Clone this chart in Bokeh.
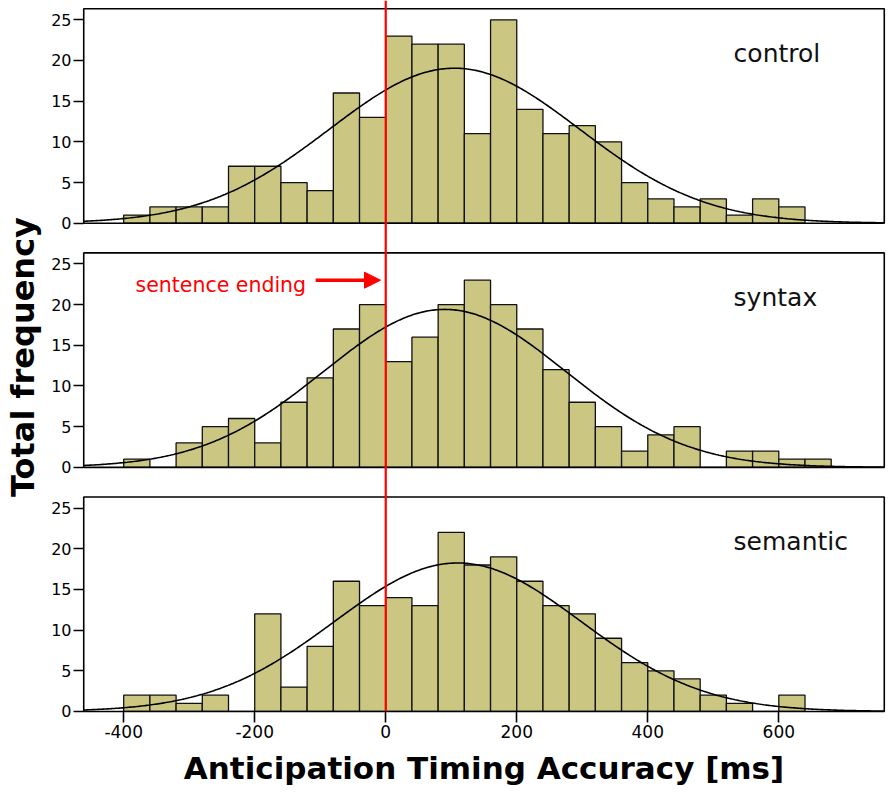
import numpy as np
from bokeh.plotting import figure
from bokeh.models import Range1d, FixedTicker, Arrow, NormalHead
from bokeh.core.properties import value
from bokeh.embed import file_html
from bokeh.resources import INLINE

# ---------------- data ----------------
bin_start = -400
bin_width = 40
panel_names = ["control", "syntax", "semantic"]
control = [1, 2, 2, 2, 7, 7, 5, 4, 16, 13, 23, 22, 22, 11, 25, 14, 11, 12, 10, 5, 3, 2, 3, 1, 3, 2]
syntax = [1, 0, 3, 5, 6, 3, 8, 11, 17, 20, 13, 16, 20, 23, 20, 17, 12, 8, 5, 2, 4, 5, 0, 2, 2, 1, 1]
semantic = [2, 2, 1, 2, 0, 12, 3, 8, 16, 13, 14, 13, 22, 18, 19, 16, 13, 12, 9, 6, 5, 4, 2, 1, 0, 2]
curve_mean = [105, 90, 110]      # fitted normal curve: mean (ms)
curve_sd = [191, 185, 188]       # fitted normal curve: sd (ms)
x_ticks = [-400, -200, 0, 200, 400, 600]
x_tick_labels = ["-400", "-200", "0", "200", "400", "600"]
y_ticks = [0, 5, 10, 15, 20, 25]
x_label = "Anticipation Timing Accuracy [ms]"
y_label = "Total frequency"
marker_label = "sentence ending"
marker_x = 0

series = [control, syntax, semantic]

# ---------------- layout constants ----------------
X_LO, X_HI = -461, 761          # panel box extent
PANEL_TOP = 26.35               # panel box height in count units
OFFSETS = [60, 30, 0]           # vertical stacking of the three panels
Y_LO, Y_HI = -0.25, 87.37

BAR_FILL = "#CBC682"
RED = "#FF0000"

p = figure(
    output_backend="svg", toolbar_location=None,
    frame_width=805, frame_height=713,
    min_border_left=81, min_border_right=0, min_border_top=0, min_border_bottom=0,
    x_range=Range1d(-464.4, 764.4), y_range=Range1d(Y_LO, Y_HI),
    background_fill_color="white", border_fill_color="white",
)
p.outline_line_color = None
p.grid.visible = False

for name, off in zip(panel_names, OFFSETS):
    p.extra_y_ranges[name] = Range1d(Y_LO - off, Y_HI - off)

# bars
for name, counts in zip(panel_names, series):
    counts = np.array(counts, dtype=float)
    left = bin_start + bin_width * np.arange(len(counts))
    p.quad(left=left, right=left + bin_width, bottom=0, top=counts,
           fill_color=BAR_FILL, line_color="#111111", line_width=1.3,
           y_range_name=name)

# normal curves
xs = np.linspace(X_LO, X_HI, 500)
for name, counts, m, s in zip(panel_names, series, curve_mean, curve_sd):
    n = sum(counts)
    ys = n * bin_width / (s * np.sqrt(2 * np.pi)) * np.exp(-0.5 * ((xs - m) / s) ** 2)
    p.line(xs, ys, line_color="#000000", line_width=1.6, y_range_name=name)

# panel boxes
p.quad(left=[X_LO] * 3, right=[X_HI] * 3, bottom=OFFSETS, top=[o + PANEL_TOP for o in OFFSETS],
       fill_color=None, line_color="#000000", line_width=1.6)

# red vertical line at sentence ending (through all panels)
p.segment(x0=[marker_x], y0=[0], x1=[marker_x], y1=[Y_HI], line_color=RED, line_width=2.2)

# panel labels
for name in panel_names:
    p.text(x=[531], y=[20.9], text=[name], y_range_name=name,
           text_font=value("DejaVu Sans"), text_font_size="25px",
           text_color="#111111", text_align="left", text_baseline="alphabetic")

# sentence ending marker
p.text(x=[-382], y=[22.4], text=[marker_label], y_range_name="syntax",
       text_font=value("DejaVu Sans"), text_font_size="20.5px",
       text_color=RED, text_align="left", text_baseline="alphabetic")
p.add_layout(Arrow(x_start=-107, y_start=23.0, x_end=-8, y_end=23.0, y_range_name="syntax",
                   line_color=RED, line_width=3.5,
                   end=NormalHead(size=16, fill_color=RED, line_color=RED, line_width=1)))

# axes
all_y = [t + off for off in OFFSETS for t in y_ticks]
p.yaxis.ticker = FixedTicker(ticks=sorted(all_y))
p.yaxis.major_label_overrides = {t + off: str(t) for off in OFFSETS for t in y_ticks}
p.xaxis.ticker = FixedTicker(ticks=x_ticks)
p.xaxis.major_label_overrides = dict(zip(x_ticks, x_tick_labels))

for ax in (p.xaxis[0], p.yaxis[0]):
    ax.axis_line_color = None
    ax.minor_tick_line_color = None
    ax.major_tick_line_color = "#000000"
    ax.major_tick_line_width = 1.6
    ax.major_tick_in = 2
    ax.major_label_text_color = "#000000"
    ax.major_label_text_font = "DejaVu Sans"
    ax.axis_label_text_font = "DejaVu Sans"
    ax.axis_label_text_font_style = "bold"
    ax.axis_label_text_color = "#000000"

p.yaxis.major_tick_out = 8
p.yaxis.major_label_standoff = 2
p.yaxis.major_label_text_font_size = "16px"
p.yaxis.axis_label = y_label
p.yaxis.axis_label_text_font_size = "32px"
p.yaxis.axis_label_standoff = 6

p.xaxis.major_tick_out = 9
p.xaxis.major_label_standoff = 2
p.xaxis.major_label_text_font_size = "17px"
p.xaxis.axis_label = x_label
p.xaxis.axis_label_text_font_size = "31px"
p.xaxis.axis_label_standoff = 9

open("out.html", "w").write(file_html(p, INLINE))
